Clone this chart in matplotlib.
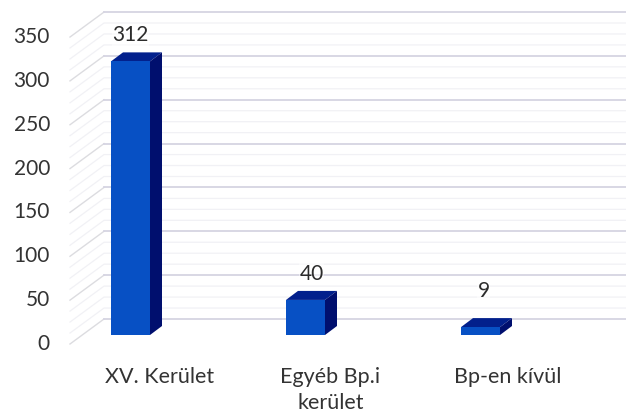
import matplotlib
matplotlib.use("Agg")
import matplotlib.pyplot as plt
from matplotlib.patches import Polygon
import numpy as np

categories = ["XV. Kerület", "Egyéb Bp.i\nkerület", "Bp-en kívül"]
values = [312, 40, 9]
y_ticks = [0, 50, 100, 150, 200, 250, 300, 350]

W, H = 626, 413
PX = 0.877            # pixels per value unit
X0, SP = 130.5, 175   # pixel x of first bar centre, spacing
Y0 = 344              # pixel y of value 0 on front edge
LEFT, WALL_DX, WALL_DY = 70, 34, 25
BAR_W, BAR_DX, BAR_DY, BAR_UP = 39, 12, 9, 9
LABEL_GAP = [17, 17, 27]
LABEL_DX = [0, 6, 3]
CAT_DX = [29, 25, 27]

plt.rcParams["font.family"] = ["Lato", "DejaVu Sans"]
fig = plt.figure(figsize=(W / 100, H / 100), dpi=100, facecolor="white")
ax = fig.add_axes([0, 0, 1, 1])
# data coords: x = category index, y = value, both via linear scales
ax.set_xlim(-X0 / SP, (W - X0) / SP)
ax.set_ylim(-(H - Y0) / PX, Y0 / PX)
ax.axis("off")

dx = lambda p: p / SP   # pixel -> data
dy = lambda p: p / PX
xp = lambda p: (p - X0) / SP

# faint minor lines on the wall
for v in np.arange(0, 350, 12.5):
    if v % 50:
        ax.plot([xp(LEFT), xp(LEFT + WALL_DX), xp(W)],
                [v, v + dy(WALL_DY), v + dy(WALL_DY)],
                color="#f1f1f5", lw=0.9, zorder=1)
# gridlines
for v in y_ticks:
    ax.plot([xp(LEFT), xp(LEFT + WALL_DX)], [v, v + dy(WALL_DY)],
            color="#dcdce0", lw=1.0, zorder=2)
    ax.plot([xp(LEFT + WALL_DX), xp(W)], [v + dy(WALL_DY)] * 2,
            color="#d5d4e2", lw=1.3, zorder=2)
    ax.text(xp(50), v, str(v), ha="right", va="center", fontsize=15, color="#333333")

# bars
for i, v in enumerate(values):
    l, r = i - dx(BAR_W / 2), i + dx(BAR_W / 2)
    b, t = dy(BAR_UP), v + dy(BAR_UP)
    ddx, ddy = dx(BAR_DX), dy(BAR_DY)
    ax.add_patch(Polygon([(l, t), (r, t), (r + ddx, t + ddy), (l + ddx, t + ddy)],
                         fc="#02208c", ec="none", zorder=4))
    ax.add_patch(Polygon([(r, b), (r + ddx, b + ddy), (r + ddx, t + ddy), (r, t)],
                         fc="#000f6e", ec="none", zorder=4))
    ax.add_patch(Polygon([(l, b), (r, b), (r, t), (l, t)],
                         fc="#0750c4", ec="none", zorder=5))
    ax.text(i + dx(LABEL_DX[i]), t + ddy + dy(LABEL_GAP[i]), str(v), ha="center", va="center",
            fontsize=15, color="#2c2c2c", zorder=6,
            bbox=dict(fc="white", ec="none", pad=0.5, alpha=0.5))
    ax.text(i + dx(CAT_DX[i]), -dy(23), categories[i], ha="center", va="top",
            fontsize=15.5, color="#333333", linespacing=1.35)

fig.savefig("out.png", dpi=100, facecolor="white")
